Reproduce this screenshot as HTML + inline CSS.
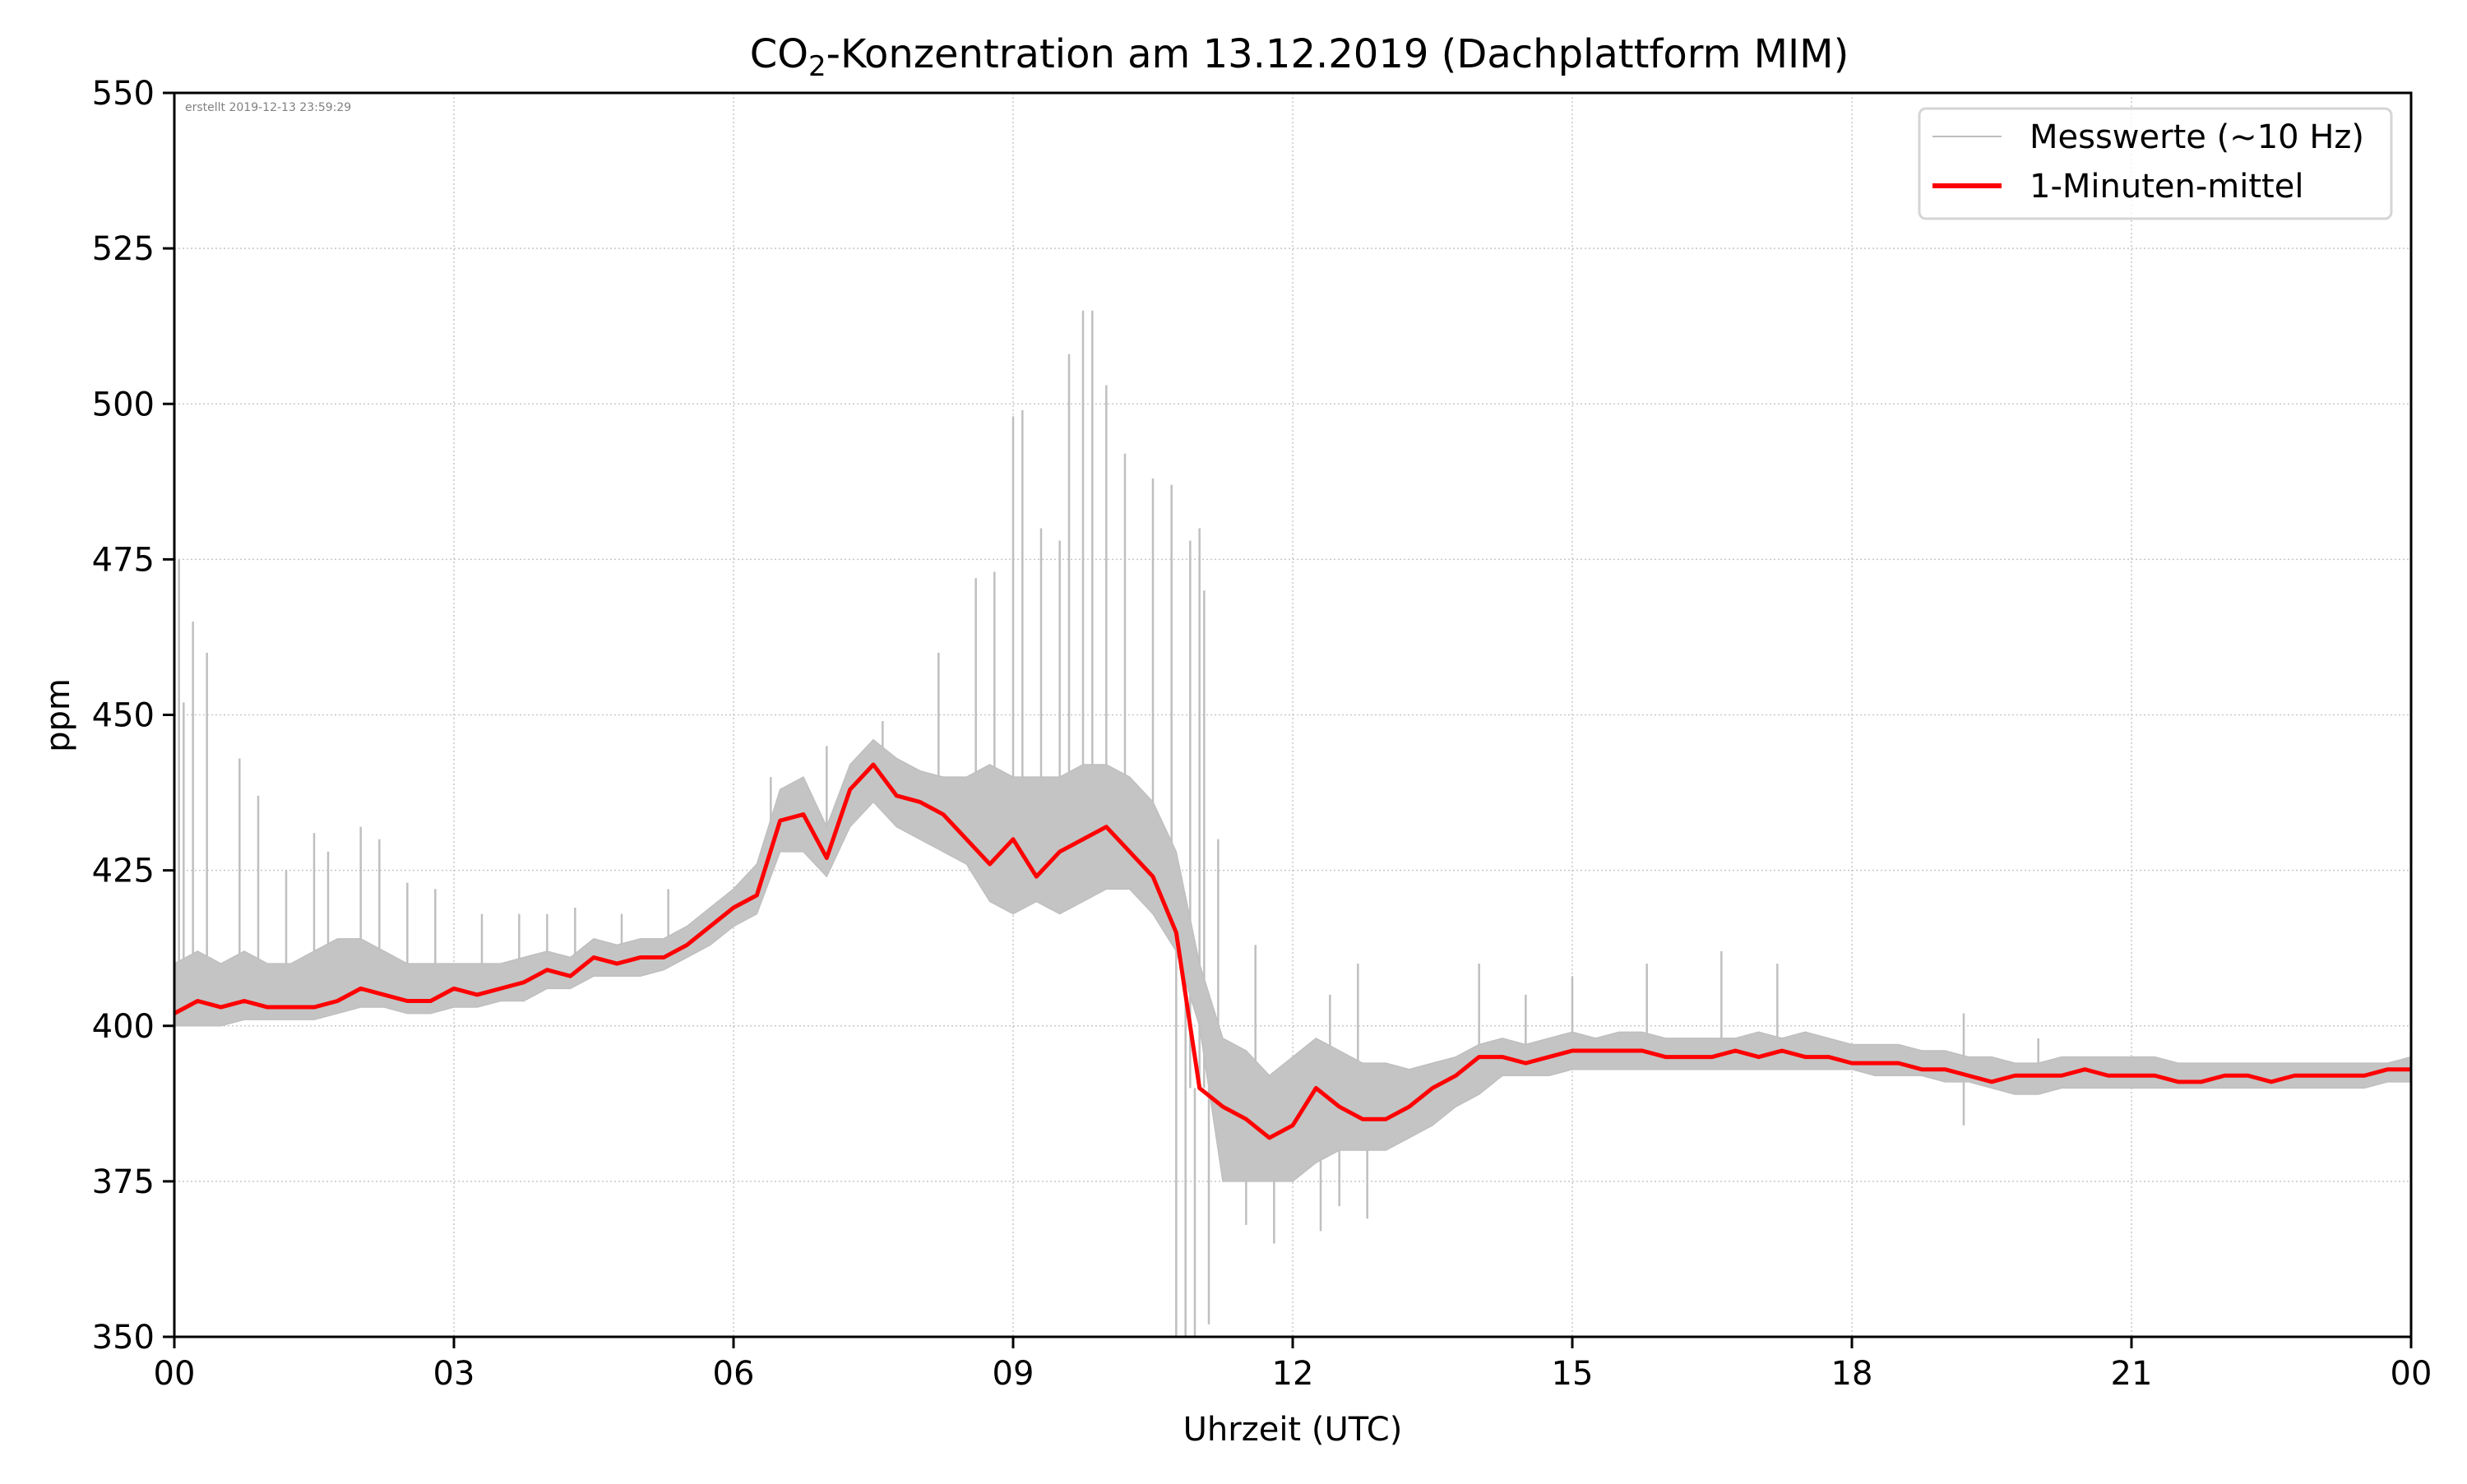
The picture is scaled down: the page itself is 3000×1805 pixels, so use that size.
<!DOCTYPE html>
<html><head><meta charset="utf-8"><style>
body{margin:0;background:#fff}
svg text{font-family:"DejaVu Sans","Liberation Sans",sans-serif}
</style></head><body>
<svg id="chart" width="3000" height="1800" viewBox="0 0 3000 1800" xmlns="http://www.w3.org/2000/svg">
<defs><clipPath id="clip"><rect x="212" y="113" width="2720" height="1513"/></clipPath></defs>
<rect x="0" y="0" width="3000" height="1800" fill="#fff"/>
<g id="grid"></g>
<g id="marks" clip-path="url(#clip)"></g>
<rect x="212" y="113" width="2720" height="1513" fill="none" stroke="#000" stroke-width="3"/>
<g id="axes"></g>
<text x="1580" y="82" font-size="48" text-anchor="middle">CO<tspan font-size="34" dy="10">2</tspan><tspan dy="-10">-Konzentration am 13.12.2019 (Dachplattform MIM)</tspan></text>
<text x="1572" y="1752" font-size="40" text-anchor="middle">Uhrzeit (UTC)</text>
<text x="84" y="870" font-size="40" text-anchor="middle" transform="rotate(-90 84 870)">ppm</text>
<text x="225" y="135" font-size="14" fill="#808080">erstellt 2019-12-13 23:59:29</text>
<g>
<rect x="2334" y="132" width="574" height="134" rx="8" fill="#fff" fill-opacity="0.8" stroke="#d5d5d5" stroke-width="3"/>
<line x1="2350" y1="166" x2="2434" y2="166" stroke="#bfbfbf" stroke-width="2"/>
<text x="2468" y="180" font-size="40">Messwerte (~10 Hz)</text>
<line x1="2350" y1="226" x2="2434" y2="226" stroke="#ff0000" stroke-width="6"/>
<text x="2468" y="240" font-size="40">1-Minuten-mittel</text>
</g>
</svg>
<script>
const xTickLabels=["00","03","06","09","12","15","18","21","00"];
const yTicks=[350,375,400,425,450,475,500,525,550];
// 15-minute resolution (hours 0..24)
const meanValues=[402,404,403,404,403,403,403,404,406,405,404,404,406,405,406,407,409,408,411,410,411,411,413,416,419,421,433,434,427,438,442,437,436,434,430,426,430,424,428,430,432,428,424,415,390,387,385,382,384,390,387,385,385,387,390,392,395,395,394,395,396,396,396,396,395,395,395,396,395,396,395,395,394,394,394,393,393,392,391,392,392,392,393,392,392,392,391,391,392,392,391,392,392,392,392,393,393];
const denseUpper=[410,412,410,412,410,410,412,414,414,412,410,410,410,410,410,411,412,411,414,413,414,414,416,419,422,426,438,440,432,442,446,443,441,440,440,442,440,440,440,442,442,440,436,428,410,398,396,392,395,398,396,394,394,393,394,395,397,398,397,398,399,398,399,399,398,398,398,398,399,398,399,398,397,397,397,396,396,395,395,394,394,395,395,395,395,395,394,394,394,394,394,394,394,394,394,394,395];
const denseLower=[400,400,400,401,401,401,401,402,403,403,402,402,403,403,404,404,406,406,408,408,408,409,411,413,416,418,428,428,424,432,436,432,430,428,426,420,418,420,418,420,422,422,418,412,400,375,375,375,375,378,380,380,380,382,384,387,389,392,392,392,393,393,393,393,393,393,393,393,393,393,393,393,393,392,392,392,391,391,390,389,389,390,390,390,390,390,390,390,390,390,390,390,390,390,390,391,391];
const spikeHours=[0.05,0.1,0.2,0.35,0.7,0.9,1.2,1.5,1.65,2.0,2.2,2.5,2.8,3.3,3.7,4.0,4.3,4.8,5.3,6.4,7.0,7.6,8.2,8.6,8.8,9.0,9.1,9.3,9.5,9.6,9.75,9.85,10.0,10.2,10.5,10.7,10.9,11.0,11.05,11.2,11.6,12.4,12.7,14.0,14.5,15.0,15.8,16.6,17.2,19.2,20.0,10.75,10.85,10.95,11.1,11.5,11.8,12.3,12.5,12.8,19.2];
const spikeValues=[475,452,465,460,443,437,425,431,428,432,430,423,422,418,418,418,419,418,422,440,445,449,460,472,473,498,499,480,478,508,515,515,503,492,488,487,478,480,470,430,413,405,410,410,405,408,410,412,410,402,398,350,350,350,352,368,365,367,371,369,384];

const L=212,R=2932,T=113,B=1626,NS="http://www.w3.org/2000/svg";
const xScale=h=>L+(R-L)*h/24;
const yScale=v=>B-(B-T)*(v-350)/200;
const grid=document.getElementById('grid'),axes=document.getElementById('axes'),marks=document.getElementById('marks');
function mk(tag,attrs,parent){const e=document.createElementNS(NS,tag);for(const k in attrs)e.setAttribute(k,attrs[k]);parent.appendChild(e);return e;}

xTickLabels.forEach((lab,i)=>{
  const x=xScale(i*3);
  const g=mk('line',{x1:x,y1:T,x2:x,y2:B,stroke:'#c8c8c8','stroke-width':1.5,'stroke-dasharray':'2 3'},grid);
  
  
  const t=mk('line',{x1:x,y1:B,x2:x,y2:B+14,stroke:'#000','stroke-width':3},axes);
  
  
  const tx=mk('text',{x:x,y:B+58,'font-size':40,'text-anchor':'middle'},axes);
  tx.textContent=lab;
  
  
});
yTicks.forEach(v=>{
  const y=yScale(v);
  const g=mk('line',{x1:L,y1:y,x2:R,y2:y,stroke:'#c8c8c8','stroke-width':1.5,'stroke-dasharray':'2 3'},grid);
  
  
  const t=mk('line',{x1:L-14,y1:y,x2:L,y2:y,stroke:'#000','stroke-width':3},axes);
  
  
  const tx=mk('text',{x:L-24,y:y+14,'font-size':40,'text-anchor':'end'},axes);
  tx.textContent=String(v);
  
  
});

const hr=i=>i*0.25;
spikeHours.forEach((h,i)=>{
  const idx=Math.min(meanValues.length-1,Math.round(h*4));
  const s=mk('line',{x1:xScale(h),y1:yScale(meanValues[idx]),x2:xScale(h),y2:yScale(spikeValues[i]),stroke:'#bfbfbf','stroke-width':2.5},marks);
  
  
});
let up=denseUpper.map((v,i)=>xScale(hr(i))+','+yScale(v));
let lo=denseLower.map((v,i)=>xScale(hr(i))+','+yScale(v)).reverse();
const band=mk('polygon',{points:up.concat(lo).join(' '),fill:'#c4c4c4',stroke:'#bfbfbf','stroke-width':1.5},marks);


const line=mk('polyline',{points:meanValues.map((v,i)=>xScale(hr(i))+','+yScale(v)).join(' '),fill:'none',stroke:'#ff0000','stroke-width':5,'stroke-linejoin':'round'},marks);


</script>
</body></html>
